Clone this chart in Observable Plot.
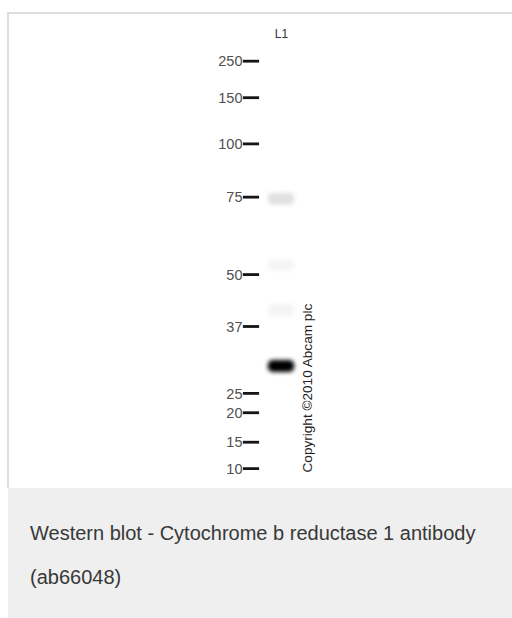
<!DOCTYPE html>
<html><head><meta charset="utf-8">
<script src="https://cdn.jsdelivr.net/npm/d3@7"></script>
<script src="https://cdn.jsdelivr.net/npm/@observablehq/plot@0.6"></script>
<style>
html,body{margin:0;padding:0;background:#fff;width:512px;height:618px;overflow:hidden;}
#chart{position:absolute;left:0;top:0;}
#topline{position:absolute;left:7px;top:12px;width:505px;height:2px;background:#dedede;}
#leftline{position:absolute;left:7px;top:12px;width:2px;height:476px;background:#dedede;}
#caption{position:absolute;left:8px;top:488px;width:504px;height:130px;background:#eeefee;box-sizing:border-box;padding:23px 0 0 22px;font-family:"Liberation Sans",Arial,sans-serif;font-size:20px;line-height:44px;color:#383838;}
</style></head><body>
<div id="chart"></div><div id="topline"></div><div id="leftline"></div>
<div id="caption">Western blot - Cytochrome b reductase 1 antibody<br>(ab66048)</div>
<script>
// ---- data read from the blot ----
const laneNames = ["ladder", "L1"];
const markerKDa = [250, 150, 100, 75, 50, 37, 25, 20, 15, 10];
const markerMigration = [0.047, 0.130, 0.235, 0.356, 0.532, 0.650, 0.802, 0.846, 0.913, 0.973];
const bandLane = ["L1", "L1", "L1", "L1"];
const bandMigration = [0.361, 0.511, 0.614, 0.741];
const bandIntensity = [0.12, 0.04, 0.045, 1.0];
const copyrightText = "Copyright \u00a92010 Abcam plc";

// ---- tables built from the arrays ----
const markers = markerKDa.map((k, i) => ({kda: k, rf: markerMigration[i], lane: laneNames.indexOf("ladder")}));
const bands = bandMigration.map((m, i) => ({rf: m, intensity: bandIntensity[i], lane: laneNames.indexOf(bandLane[i])}));
const lanes = laneNames.map((n, i) => ({name: n, idx: i}));

// ---- style constants ----
const dashHalf = 0.27;
const bandHalfW = 0.44;
const bandHalfH = 0.0135;

const plot = Plot.plot({
  width: 512,
  height: 488,
  marginLeft: 251,
  marginRight: 231,
  marginTop: 40,
  marginBottom: 8,
  x: {domain: [0, 1], axis: null},
  y: {domain: [0, 1], reverse: true, axis: null},
  opacity: {domain: [0, 1], range: [0, 1]},
  style: {fontFamily: "'Liberation Sans', Arial, sans-serif", background: "transparent", overflow: "visible"},
  marks: [
    Plot.rect(bands, {
      x1: d => d.lane - bandHalfW, x2: d => d.lane + bandHalfW,
      y1: d => d.rf - bandHalfH, y2: d => d.rf + bandHalfH,
      fill: "#000", fillOpacity: "intensity", rx: 5
    }),
    Plot.ruleY(markers, {
      y: "rf", x1: d => d.lane - dashHalf, x2: d => d.lane + dashHalf,
      stroke: "#151515", strokeWidth: 2.8
    }),
    Plot.text(markers, {
      x: "lane", y: "rf", text: d => String(d.kda), textAnchor: "end", dx: -9, dy: 0.5,
      fill: "#505050", fontSize: 14.5
    }),
    Plot.text(lanes.filter(d => d.name !== "ladder"), {
      x: "idx", text: "name", frameAnchor: "top", lineAnchor: "bottom", dy: -3,
      fill: "#333", fontSize: 12
    }),
    Plot.text([copyrightText], {
      x: () => laneNames.indexOf("L1"), text: d => d, frameAnchor: "bottom",
      rotate: -90, textAnchor: "start", lineAnchor: "middle", dx: 26, dy: -8,
      fill: "#222", fontSize: 13.6
    })
  ]
});

const defs = document.createElementNS("http://www.w3.org/2000/svg", "defs");
defs.innerHTML = '<filter id="bandBlur" filterUnits="userSpaceOnUse" x="0" y="0" width="512" height="488"><feGaussianBlur stdDeviation="2"/></filter>';
plot.prepend(defs);
const firstRect = plot.querySelector("rect");
if (firstRect && firstRect.parentNode) firstRect.parentNode.setAttribute("filter", "url(#bandBlur)");
document.getElementById("chart").appendChild(plot);
</script>
</body></html>
